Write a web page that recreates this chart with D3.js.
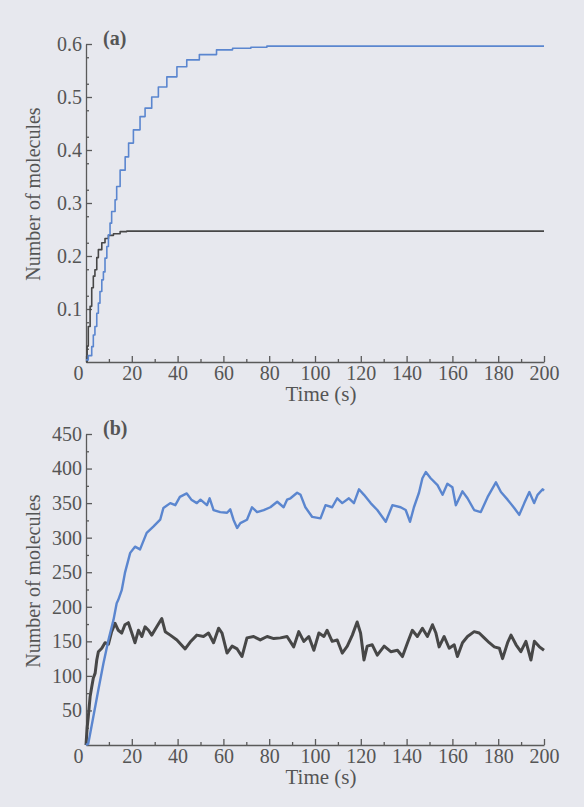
<!DOCTYPE html>
<html>
<head>
<meta charset="utf-8">
<script src="https://cdn.jsdelivr.net/npm/d3@7"></script>
<style>
	html, body { margin: 0; padding: 0; background: #e7e8ee; }
	.c-svg { width: 584px; height: 807px; }
	text { font-family: "Liberation Serif", "Times New Roman", serif; fill: #555; }
</style>
</head>
<body>
<div class="c-svg"></div>
<script>
//DATA
//-------------------------------------------------------------------------

//panel (a) : deterministic curves
const aBlueTime = [0, 1, 2.5, 3.2, 3.9, 4.7, 5.4, 6.1, 6.9, 7.6, 8.3, 9.1, 9.8, 10.5, 11.2, 12.7, 13.4, 14.9, 17.1, 18.6, 20.7, 23.6, 25.8, 28.7, 31.6, 35.3, 39.7, 44, 49.5, 57, 64, 72, 79, 200];
const aBlueValue = [0.004, 0.012, 0.029, 0.051, 0.067, 0.092, 0.111, 0.133, 0.155, 0.17, 0.196, 0.218, 0.24, 0.262, 0.284, 0.306, 0.331, 0.362, 0.387, 0.413, 0.438, 0.463, 0.479, 0.5, 0.519, 0.538, 0.557, 0.57, 0.58, 0.589, 0.592, 0.594, 0.596, 0.596];

const aGrayTime = [0, 0.5, 1, 1.8, 2.5, 3.2, 3.9, 4.7, 5.4, 6.9, 8.3, 9.8, 12, 14.9, 17.8, 200];
const aGrayValue = [0, 0.03, 0.067, 0.105, 0.14, 0.162, 0.174, 0.197, 0.212, 0.225, 0.233, 0.239, 0.242, 0.246, 0.247, 0.247];

//panel (b) : stochastic curves
const bBlueTime = [0, 1, 3.2, 5.4, 7.6, 9.8, 12, 13.4, 14.1, 15.6, 17, 19.3, 21.4, 23.6, 26.5, 29.4, 32.4, 33.8, 36.8, 39, 41, 44, 46, 48.4, 50, 52.8, 54, 55.7, 58.6, 61.6, 63, 64.4, 66, 67.4, 70.3, 72.5, 74.7, 77.6, 80.5, 83.5, 86.3, 87.8, 89.3, 92.2, 93.7, 95.8, 98.8, 102.4, 104.6, 107.5, 109.7, 111.9, 114.8, 117, 119.2, 121.4, 124.3, 127.2, 130.9, 133.8, 137.4, 139.6, 141.5, 143.2, 145.4, 146.9, 148.4, 150.5, 153.5, 155.7, 157.8, 160, 161.5, 164.4, 166.6, 169.5, 172.4, 175.4, 179, 181.2, 184.1, 187, 189.2, 191.4, 193.6, 195.7, 197.2, 199.4, 200];
const bBlueValue = [0, 2, 41, 80, 118, 152, 181, 205, 210, 224, 249, 278, 287, 283, 307, 316, 326, 343, 350, 347, 359, 364, 355, 350, 355, 347, 357, 340, 337, 336, 341, 326, 314, 321, 326, 344, 337, 340, 344, 352, 344, 355, 357, 365, 362, 344, 330, 328, 347, 344, 357, 350, 357, 350, 370, 362, 350, 340, 323, 347, 344, 340, 323, 344, 365, 386, 395, 386, 376, 362, 378, 373, 347, 367, 357, 340, 337, 359, 380, 366, 355, 343, 333, 350, 366, 350, 362, 370, 368];

const bGrayTime = [0, 0.5, 1, 1.8, 2.5, 3.2, 4, 4.7, 5.4, 6.9, 8.3, 9.8, 11.2, 12.7, 14.1, 15.6, 17, 18.5, 20, 21.4, 22.9, 24.4, 25.8, 27.3, 28.7, 30.9, 33.1, 34.6, 36.8, 39.7, 43.3, 45.5, 48.4, 51.3, 53.5, 55.7, 57.9, 59.4, 61.6, 63.8, 66, 68.1, 70.3, 73.2, 76.1, 79.1, 82, 84.9, 87.8, 90.7, 92.9, 95.1, 97.3, 99.5, 101.7, 103.9, 105.3, 107.5, 109.7, 111.9, 114.1, 116.3, 118.4, 119.9, 121.4, 122.8, 125, 127.2, 130.2, 133.1, 136, 138.2, 140.4, 142.5, 144.7, 146.9, 149.1, 151.3, 152.8, 154.2, 156.4, 158.6, 160.8, 162.2, 164.4, 166.6, 169.5, 171.7, 173.9, 176.1, 178.3, 180.5, 181.9, 184.1, 185.6, 187.8, 189.9, 192.1, 194.3, 195.8, 198, 200];
const bGrayValue = [0, 25, 41, 70, 84, 97, 104, 123, 135, 140, 148, 146, 164, 176, 166, 162, 174, 177, 162, 148, 166, 157, 171, 166, 159, 171, 183, 164, 159, 152, 139, 149, 159, 157, 162, 148, 169, 162, 133, 143, 139, 128, 155, 157, 152, 157, 154, 155, 157, 142, 164, 150, 157, 137, 162, 157, 166, 150, 152, 133, 143, 159, 178, 162, 123, 143, 145, 130, 143, 135, 137, 128, 148, 166, 157, 169, 157, 174, 162, 142, 157, 140, 145, 128, 148, 157, 164, 162, 155, 148, 142, 140, 125, 148, 159, 145, 135, 150, 123, 150, 142, 137];

//ticks
const timeTicks = [0, 20, 40, 60, 80, 100, 120, 140, 160, 180, 200];
const aTicks = [0.1, 0.2, 0.3, 0.4, 0.5, 0.6];
const bTicks = [50, 100, 150, 200, 250, 300, 350, 400, 450];


//INITIALISATION
//-------------------------------------------------------------------------

const opts = {
	container: ".c-svg",
	width: 584,
	height: 807,
	axisColor: "#5a5a5a",
	blue: "#5b86cf",
	gray: "#474747"
};

const svg = d3.select(opts.container)
	.append("svg")
	.attr("width", opts.width)
	.attr("height", opts.height);

const zip = (ts, vs) => ts.map((t, i) => ({ t: t, v: vs[i] }));

//one panel = one small chart
function drawPanel(p){

	const x = d3.scaleLinear()
		.domain([0, 200])
		.range([p.left, p.right]);

	const y = d3.scaleLinear()
		.domain([0, p.yMax])
		.range([p.bottom, p.top]);

	const g = svg.append("g")
		.attr("class", "panel");

	//minor ticks
	g.append("g")
		.attr("transform", `translate(0 ${p.bottom})`)
		.call(d3.axisTop(x).tickValues(d3.range(10, 200, 20)).tickSize(3).tickFormat(""))
		.call(a => a.select(".domain").remove());

	g.append("g")
		.attr("transform", `translate(${p.left} 0)`)
		.call(d3.axisRight(y).tickValues(p.minor).tickSize(3).tickFormat(""))
		.call(a => a.select(".domain").remove());

	//x axis
	const xAxis = g.append("g")
		.attr("class", "axis x_axis")
		.attr("transform", `translate(0 ${p.bottom})`)
		.call(d3.axisTop(x).tickValues(timeTicks).tickSize(6).tickSizeOuter(0));

	xAxis.selectAll("text")
		.attr("y", 18)
		.attr("dy", 0)
		.attr("x", d => d === 0 ? -8 : 0)
		.style("font-size", "20px");

	//y axis
	const yAxis = g.append("g")
		.attr("class", "axis y_axis")
		.attr("transform", `translate(${p.left} 0)`)
		.call(d3.axisRight(y).tickValues(p.ticks).tickSize(6).tickSizeOuter(0).tickFormat(p.format));

	yAxis.selectAll("text")
		.attr("x", -4)
		.attr("text-anchor", "end")
		.style("font-size", "20px");

	g.selectAll(".domain, .tick line")
		.attr("stroke", opts.axisColor)
		.attr("stroke-width", 1.3);
	g.selectAll(".tick text").attr("fill", "#555");

	//labels
	g.append("text")
		.attr("x", 321)
		.attr("y", p.bottom + 39)
		.attr("text-anchor", "middle")
		.style("font-size", "21px")
		.text("Time (s)");

	g.append("text")
		.attr("transform", `translate(40 ${p.labelY}) rotate(-90)`)
		.attr("text-anchor", "middle")
		.style("font-size", "20px")
		.text("Number of molecules");

	g.append("text")
		.attr("x", p.left + 17)
		.attr("y", p.top + 1)
		.style("font-size", "20px")
		.style("font-weight", "bold")
		.text(p.tag);

	//lines
	p.series.forEach(s => {
		const line = d3.line()
			.curve(s.curve)
			.x(d => x(d.t))
			.y(d => y(d.v));

		g.append("path")
			.datum(s.data)
			.attr("d", line)
			.attr("fill", "none")
			.attr("stroke", s.color)
			.attr("stroke-width", s.width)
			.attr("stroke-linejoin", "round");
	});
}

drawPanel({
	tag: "(a)",
	left: 86, right: 544, top: 44, bottom: 362,
	yMax: 0.6,
	ticks: aTicks,
	minor: d3.range(0.025, 0.6, 0.05),
	format: d3.format(".1f"),
	labelY: 194,
	series: [
		{ data: zip(aGrayTime, aGrayValue), color: opts.gray, width: 1.6, curve: d3.curveStepAfter },
		{ data: zip(aBlueTime, aBlueValue), color: opts.blue, width: 1.6, curve: d3.curveStepAfter }
	]
});

drawPanel({
	tag: "(b)",
	left: 86, right: 544, top: 434, bottom: 745,
	yMax: 450,
	ticks: bTicks,
	minor: d3.range(25, 450, 50),
	format: d3.format("d"),
	labelY: 581,
	series: [
		{ data: zip(bGrayTime, bGrayValue), color: opts.gray, width: 3, curve: d3.curveLinear },
		{ data: zip(bBlueTime, bBlueValue), color: opts.blue, width: 2.4, curve: d3.curveLinear }
	]
});
</script>
</body>
</html>
